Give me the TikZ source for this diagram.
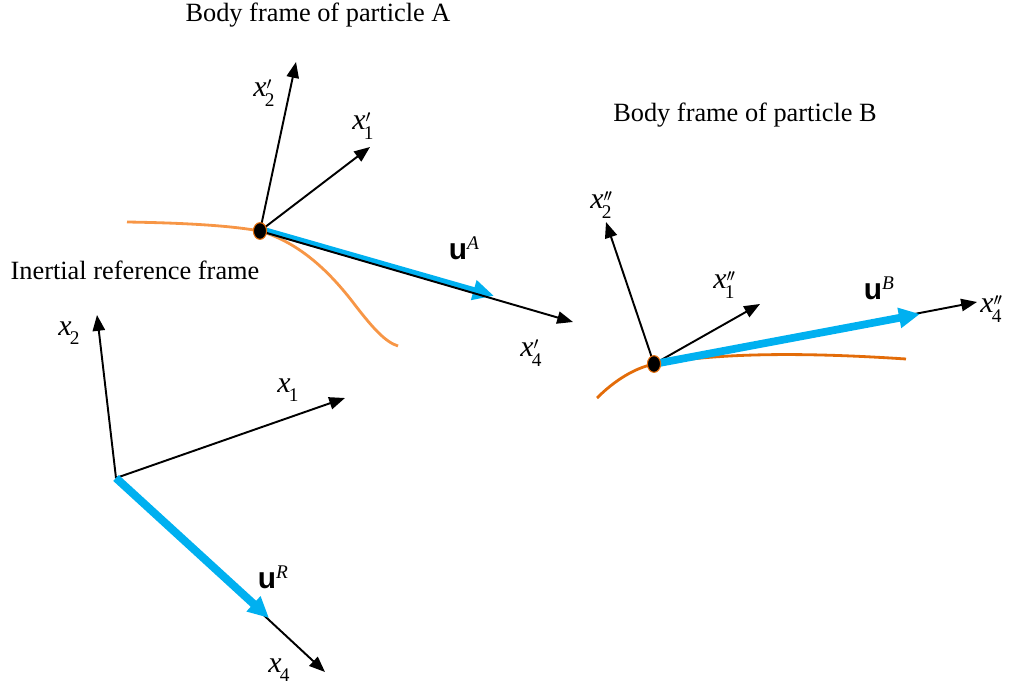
\documentclass[tikz,border=0pt]{standalone}
\usepackage{fontspec}
\setmainfont{Liberation Serif}
\newfontfamily\sansb{Liberation Sans}
\usetikzlibrary{arrows.meta,shapes.geometric}
\definecolor{skyblue}{HTML}{00B0F0}
\definecolor{orangeA}{HTML}{F79646}
\definecolor{orangeB}{HTML}{E36C09}
\newcommand{\axlab}[2]{\fontsize{17}{17}\selectfont\textit{x}\rlap{\raisebox{4pt}{\fontsize{10}{10}\selectfont$#2$}}\kern-1pt\raisebox{-5.5pt}{\fontsize{11}{11}\selectfont #1}}
\newcommand{\ulab}[1]{{\sansb\bfseries\fontsize{17}{17}\selectfont u}\raisebox{0.55em}{\fontsize{11}{11}\selectfont\textit{#1}}}
\begin{document}
\begin{tikzpicture}[x=0.02cm,y=-0.02cm,
  axis/.style={line width=1.1pt,-{Triangle[length=9pt,width=7pt]}},
  vel/.style={skyblue,line width=4.2pt,-{Triangle[length=12pt,width=11pt]}},
  lbl/.style={inner sep=0pt},
  title/.style={font=\fontsize{15}{15}\selectfont,inner sep=0pt},
  dot/.style={ellipse,fill=black,draw=orangeB,line width=0.6pt,minimum width=7.5pt,minimum height=9.5pt,inner sep=0pt}]
\useasboundingbox (0,0) rectangle (1011,689);

% titles
\node[title] (tA) at (318,15) {Body frame of particle A};
\node[title] (tB) at (745,115) {Body frame of particle B};
\node[title] (tR) at (135,270) {Inertial reference frame};

% ---------- inertial frame ----------
\coordinate (O) at (116,478);
\coordinate (R2) at (97,315);
\coordinate (R1) at (345,398);
\coordinate (R4) at (325,672);
\coordinate (UR) at (269,618);
\draw[axis] (O) -- (R2);
\draw[axis] (O) -- (R1);
\draw[axis] (O) -- (R4);
\draw[vel,line width=4.6pt] (O) -- (UR);
\node[lbl] (lR2) at (69,333) {\axlab{2}{}};
\node[lbl] (lR1) at (288,390) {\axlab{1}{}};
\node[lbl] (lR4) at (279,670) {\axlab{4}{}};
\node[lbl] (lUR) at (273,577) {\ulab{R}};

% ---------- particle A ----------
\coordinate (PA) at (260,231);
\coordinate (A2) at (296,62);
\coordinate (A1) at (370,147);
\coordinate (A4) at (573,322);
\coordinate (UA) at (494,298);
\coordinate (cA0) at (127,222);
\coordinate (cA1) at (398,346);
\draw[orangeA,line width=1.6pt] (cA0) .. controls (190,223) and (232,226) .. (PA)
   .. controls (300,243) and (330,272) .. (355,305)
   .. controls (372,327) and (385,342) .. (cA1);
\draw[vel,line width=3.4pt] ([yshift=1.2pt]PA) -- ([yshift=1.2pt]UA);
\draw[axis] (PA) -- (A2);
\draw[axis] (PA) -- (A1);
\draw[axis] (PA) -- (A4);
\node[dot] (dA) at (PA) {};
\node[lbl] (lA2) at (264,93) {\axlab{2}{\prime}};
\node[lbl] (lA1) at (363,126) {\axlab{1}{\prime}};
\node[lbl] (lA4) at (531,353) {\axlab{4}{\prime}};
\node[lbl] (lUA) at (464,248) {\ulab{A}};

% ---------- particle B ----------
\coordinate (PB) at (654,364);
\coordinate (B2) at (606,222);
\coordinate (B1) at (760,304);
\coordinate (B4) at (977,302);
\coordinate (UB) at (920,314);
\coordinate (cB0) at (597,398);
\coordinate (cB1) at (906,359);
\draw[orangeB,line width=1.6pt] (cB0) .. controls (615,380) and (635,368) .. (PB)
   .. controls (720,353) and (800,352) .. (cB1);
\draw[axis] (PB) -- (B2);
\draw[axis] (PB) -- (B1);
\draw[axis] (PB) -- (B4);
\draw[vel,line width=4.4pt] (PB) -- (UB);
\node[dot] (dB) at (PB) {};
\node[lbl] (lB2) at (601,205) {\axlab{2}{\prime\mkern-1.5mu\prime}};
\node[lbl] (lB1) at (724,285) {\axlab{1}{\prime\mkern-1.5mu\prime}};
\node[lbl] (lB4) at (991,309) {\axlab{4}{\prime\mkern-1.5mu\prime}};
\node[lbl] (lUB) at (879,288) {\ulab{B}};
\end{tikzpicture}
\end{document}
